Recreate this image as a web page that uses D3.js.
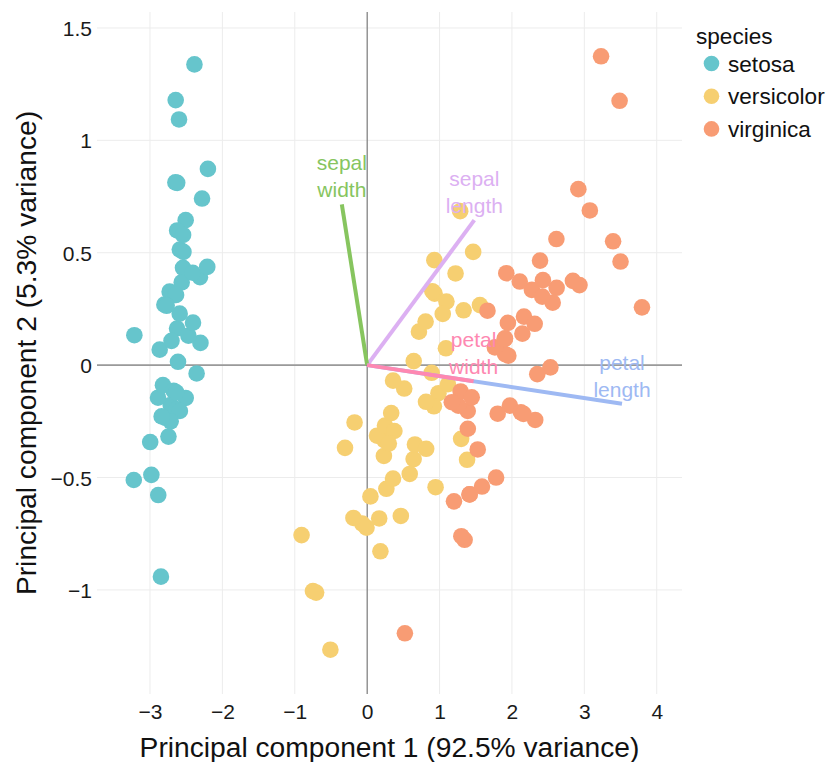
<!DOCTYPE html>
<html><head><meta charset="utf-8">
<script src="https://cdn.jsdelivr.net/npm/d3@7"></script>
<style>body{margin:0;background:#fff}svg{display:block}text{font-family:"Liberation Sans",Arial,sans-serif}</style>
</head><body><svg id="c" width="827" height="762"></svg>
<script>
const species = ["setosa","versicolor","virginica"];
const speciesColors = ["#66C5CC","#F6CF71","#F89C74"];
const setosaPC = [[-2.684,0.319],[-2.714,-0.177],[-2.889,-0.145],[-2.745,-0.318],[-2.729,0.327],[-2.281,0.741],[-2.821,-0.089],[-2.626,0.163],[-2.886,-0.578],[-2.673,-0.114],[-2.507,0.645],[-2.613,0.015],[-2.786,-0.235],[-3.224,-0.511],[-2.645,1.179],[-2.386,1.338],[-2.624,0.811],[-2.648,0.312],[-2.200,0.873],[-2.588,0.514],[-2.310,0.391],[-2.544,0.433],[-3.216,0.133],[-2.303,0.099],[-2.356,-0.037],[-2.507,-0.146],[-2.469,0.131],[-2.562,0.368],[-2.640,0.312],[-2.632,-0.197],[-2.587,-0.204],[-2.410,0.411],[-2.649,0.813],[-2.599,1.093],[-2.637,-0.121],[-2.866,0.069],[-2.625,0.599],[-2.801,0.269],[-2.981,-0.488],[-2.590,0.229],[-2.770,0.264],[-2.849,-0.941],[-2.997,-0.342],[-2.406,0.189],[-2.209,0.437],[-2.714,-0.250],[-2.538,0.504],[-2.839,-0.228],[-2.543,0.579],[-2.703,0.108]];
const versicolorPC = [[1.285,0.685],[0.932,0.318],[1.464,0.504],[0.183,-0.828],[1.088,0.075],[0.642,-0.418],[1.095,0.283],[-0.749,-1.005],[1.044,0.228],[-0.009,-0.723],[-0.508,-1.266],[0.512,-0.104],[0.265,-0.550],[0.985,-0.125],[-0.174,-0.255],[0.928,0.467],[0.660,-0.353],[0.236,-0.334],[0.945,-0.543],[0.045,-0.584],[1.116,-0.085],[0.358,-0.069],[1.298,-0.328],[0.922,-0.183],[0.715,0.149],[0.900,0.329],[1.332,0.244],[1.558,0.267],[0.813,-0.163],[-0.306,-0.368],[-0.068,-0.705],[-0.190,-0.680],[0.136,-0.314],[1.380,-0.421],[0.588,-0.484],[0.807,0.194],[1.221,0.408],[0.815,-0.372],[0.246,-0.269],[0.166,-0.682],[0.465,-0.671],[0.891,-0.034],[0.231,-0.404],[-0.705,-1.012],[0.357,-0.505],[0.332,-0.213],[0.376,-0.293],[0.643,0.018],[-0.906,-0.756],[0.299,-0.349]];
const virginicaPC = [[2.531,-0.010],[1.415,-0.575],[2.617,0.344],[1.972,-0.180],[2.350,-0.040],[3.397,0.551],[0.521,-1.193],[2.933,0.356],[2.321,-0.244],[2.917,0.783],[1.662,0.242],[1.803,-0.216],[2.166,0.216],[1.346,-0.777],[1.586,-0.540],[1.904,0.119],[1.950,0.042],[3.487,1.176],[3.796,0.257],[1.301,-0.761],[2.428,0.378],[1.199,-0.606],[3.500,0.461],[1.389,-0.204],[2.275,0.335],[2.614,0.561],[1.259,-0.180],[1.291,-0.117],[2.124,-0.210],[2.388,0.465],[2.842,0.375],[3.231,1.374],[2.159,-0.217],[1.444,-0.143],[1.781,-0.500],[3.076,0.688],[2.144,0.140],[1.905,0.049],[1.169,-0.165],[2.108,0.372],[2.314,0.184],[1.922,0.409],[1.415,-0.575],[2.563,0.278],[2.419,0.305],[1.944,0.188],[1.527,-0.375],[1.764,0.079],[1.901,0.117],[1.390,-0.283]];
const features = ["sepal length","sepal width","petal length","petal width"];
const featureColors = ["#DCB0F2","#87C55F","#9EB9F3","#FE88B1"];
const loadingX = [1.48,-0.35,3.52,1.47];
const loadingY = [0.645,0.715,-0.172,-0.072];
const xTicks = [-3,-2,-1,0,1,2,3,4];
const yTicks = [-1,-0.5,0,0.5,1,1.5];
const xTitle = "Principal component 1 (92.5% variance)";
const yTitle = "Principal component 2 (5.3% variance)";

const svg = d3.select("#c");
const L=97,R=682,T=12,B=694;
const x = d3.scaleLinear().domain([-3.732,4.349]).range([L,R]);
const y = d3.scaleLinear().domain([-1.463,1.571]).range([B,T]);
const fmt = d => d<0 ? "\u2212"+Math.abs(d) : String(d);

// grid
const g = svg.append("g");
g.selectAll(".vx").data(xTicks).join("line").attr("x1",d=>x(d)).attr("x2",d=>x(d)).attr("y1",T).attr("y2",B).attr("stroke","#ececec").attr("stroke-width",1);
g.selectAll(".hy").data(yTicks).join("line").attr("y1",d=>y(d)).attr("y2",d=>y(d)).attr("x1",L).attr("x2",R).attr("stroke","#ececec").attr("stroke-width",1);
// zero lines
svg.append("line").attr("x1",L).attr("x2",R).attr("y1",y(0)).attr("y2",y(0)).attr("stroke","#9a9a9a").attr("stroke-width",1.6);
svg.append("line").attr("x1",x(0)).attr("x2",x(0)).attr("y1",T).attr("y2",B).attr("stroke","#666").attr("stroke-width",1);

// axes (text only)
const xAxis = d3.axisBottom(x).tickValues(xTicks).tickFormat(fmt).tickSize(0).tickPadding(0);
const xa = svg.append("g").attr("transform",`translate(0,${B})`).call(xAxis);
xa.select(".domain").remove();
xa.selectAll("text").attr("font-size",21).attr("fill","#1a1a1a").attr("dy",null).attr("y",25).attr("font-family","Liberation Sans, Arial, sans-serif");
const yAxis = d3.axisLeft(y).tickValues(yTicks).tickFormat(fmt).tickSize(0).tickPadding(0);
const ya = svg.append("g").attr("transform",`translate(${L-5},0)`).call(yAxis);
ya.select(".domain").remove();
ya.selectAll("text").attr("font-size",21).attr("fill","#1a1a1a").attr("dy","0.36em").attr("x",0).attr("font-family","Liberation Sans, Arial, sans-serif");

// points
const groups = [setosaPC, versicolorPC, virginicaPC];
groups.forEach((pts,i)=>{
  svg.append("g").selectAll("circle").data(pts).join("circle")
    .attr("cx",d=>x(d[0])).attr("cy",d=>y(d[1])).attr("r",8.3).attr("fill",speciesColors[i]);
});

// loadings
const lg = svg.append("g");
features.forEach((f,i)=>{
  lg.append("line").attr("x1",x(0)).attr("y1",y(0)).attr("x2",x(loadingX[i])).attr("y2",y(loadingY[i]))
    .attr("stroke",featureColors[i]).attr("stroke-width",4);
});
features.forEach((f,i)=>{
  const parts = f.split(" ");
  const t = lg.append("text").attr("text-anchor","middle").attr("font-size",21).attr("fill",featureColors[i]);
  t.append("tspan").attr("x",x(loadingX[i])).attr("y",y(loadingY[i])-34).text(parts[0]);
  t.append("tspan").attr("x",x(loadingX[i])).attr("y",y(loadingY[i])-7).text(parts[1]);
});

// titles
svg.append("text").attr("x",(L+R)/2).attr("y",757).attr("text-anchor","middle").attr("font-size",28.2).attr("fill","#111").text(xTitle);
svg.append("text").attr("transform",`translate(36,${(T+B)/2}) rotate(-90)`).attr("text-anchor","middle").attr("font-size",28.2).attr("fill","#111").text(yTitle);

// legend
const leg = svg.append("g");
leg.append("text").attr("x",696).attr("y",44).attr("font-size",22.6).attr("fill","#111").text("species");
species.forEach((s,i)=>{
  const cy = 63.5 + i*32.7;
  leg.append("circle").attr("cx",711.5).attr("cy",cy).attr("r",7.8).attr("fill",speciesColors[i]);
  leg.append("text").attr("x",728).attr("y",cy).attr("dy","0.36em").attr("font-size",22.6).attr("fill","#111").text(s);
});
</script></body></html>
